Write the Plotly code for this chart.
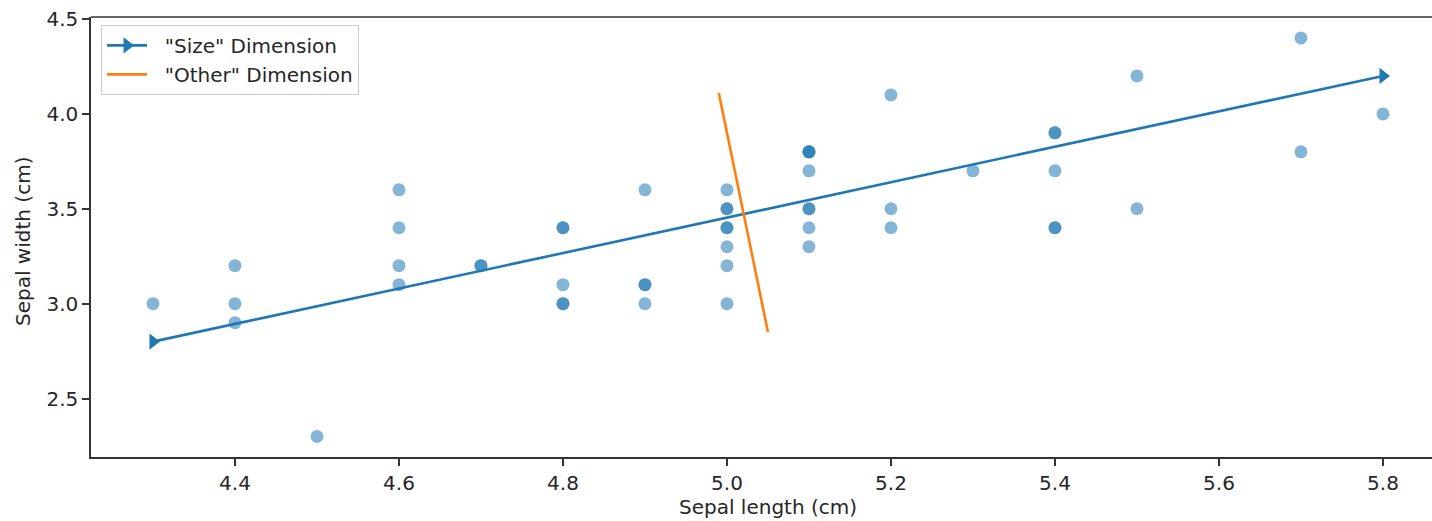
import plotly.graph_objects as go

# Iris setosa: sepal length / sepal width (cm)
sepal_length = [5.1, 4.9, 4.7, 4.6, 5.0, 5.4, 4.6, 5.0, 4.4, 4.9,
                5.4, 4.8, 4.8, 4.3, 5.8, 5.7, 5.4, 5.1, 5.7, 5.1,
                5.4, 5.1, 4.6, 5.1, 4.8, 5.0, 5.0, 5.2, 5.2, 4.7,
                4.8, 5.4, 5.2, 5.5, 4.9, 5.0, 5.5, 4.9, 4.4, 5.1,
                5.0, 4.5, 4.4, 5.0, 5.1, 4.8, 5.1, 4.6, 5.3, 5.0]
sepal_width = [3.5, 3.0, 3.2, 3.1, 3.6, 3.9, 3.4, 3.4, 2.9, 3.1,
               3.7, 3.4, 3.0, 3.0, 4.0, 4.4, 3.9, 3.5, 3.8, 3.8,
               3.4, 3.7, 3.6, 3.3, 3.4, 3.0, 3.4, 3.5, 3.4, 3.2,
               3.1, 3.4, 4.1, 4.2, 3.1, 3.2, 3.5, 3.6, 3.0, 3.4,
               3.5, 2.3, 3.2, 3.5, 3.8, 3.0, 3.8, 3.2, 3.7, 3.3]

size_x = [4.3, 5.8]
size_y = [2.8, 4.2]
other_x = [4.99, 5.05]
other_y = [4.11, 2.85]

x_ticks = [4.4, 4.6, 4.8, 5.0, 5.2, 5.4, 5.6, 5.8]
y_ticks = [2.5, 3.0, 3.5, 4.0, 4.5]

BLUE = "#1f77b4"
ORANGE = "#ff7f0e"
FONT = "DejaVu Sans"
TXT = "#262626"
FS = 20
PAD = "\u00a0\u00a0"

fig = go.Figure()
fig.add_trace(go.Scatter(
    x=sepal_length, y=sepal_width, mode="markers",
    marker=dict(color=BLUE, size=13, opacity=0.55, line=dict(width=0)),
    showlegend=False, hoverinfo="skip"))
fig.add_trace(go.Scatter(
    x=size_x, y=size_y, mode="lines+markers", name=PAD + '"Size" Dimension',
    line=dict(color=BLUE, width=2.6),
    marker=dict(symbol="triangle-right", size=14, color=BLUE, line=dict(width=0))))
fig.add_trace(go.Scatter(
    x=other_x, y=other_y, mode="lines", name=PAD + '"Other" Dimension',
    line=dict(color=ORANGE, width=2.6)))

L, T = 91, 17
W, H = 1432, 521
B = 457
fig.update_layout(
    width=W, height=H,
    margin=dict(l=L, r=0, t=T, b=H - B),
    paper_bgcolor="white", plot_bgcolor="white",
    font=dict(family=FONT, size=FS, color=TXT),
    legend=dict(x=0.0075, y=0.982, xanchor="left", yanchor="top",
                bgcolor="rgba(255,255,255,0.8)", bordercolor="#cccccc",
                borderwidth=1, font=dict(size=FS, color=TXT),
                itemwidth=40, tracegroupgap=0),
    xaxis=dict(range=[4.2244, 5.8598], tickvals=x_ticks,
               ticktext=[f"{v:.1f}" for v in x_ticks],
               showgrid=False, zeroline=False, showline=True,
               linecolor="#333333", linewidth=1.5, ticks="outside",
               ticklen=7, tickwidth=1.5, tickcolor="#333333",
               tickfont=dict(size=FS, color=TXT)),
    yaxis=dict(range=[2.192, 4.5105], tickvals=y_ticks,
               ticktext=[f"{v:.1f}" for v in y_ticks],
               showgrid=False, zeroline=False, showline=True,
               linecolor="#333333", linewidth=1.5, ticks="outside",
               ticklen=7, tickwidth=1.5, tickcolor="#333333",
               tickfont=dict(size=FS, color=TXT)),
    shapes=[dict(type="line", xref="paper", yref="paper", x0=0, x1=1, y0=1, y1=1,
                 line=dict(color="#333333", width=1.5))],
    annotations=[
        dict(text="Sepal length (cm)", xref="paper", yref="paper",
             x=(768 - L) / (W - L), y=0, yshift=-50, showarrow=False,
             xanchor="center", yanchor="middle",
             font=dict(size=FS, color=TXT, family=FONT)),
        dict(text="Sepal width (cm)", xref="paper", yref="paper",
             x=0, xshift=-(L - 23), y=(B - 242) / (B - T), showarrow=False,
             textangle=-90, xanchor="center", yanchor="middle",
             font=dict(size=FS, color=TXT, family=FONT)),
    ],
)

fig.write_html("out.html")
